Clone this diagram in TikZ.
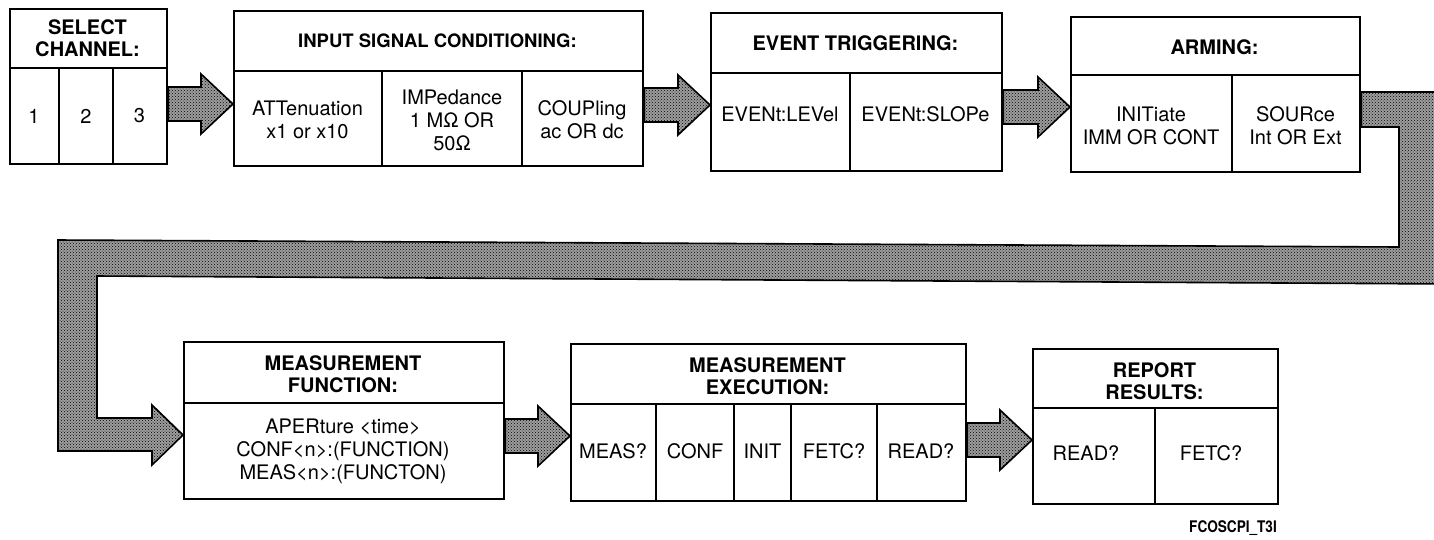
\documentclass[tikz,border=0pt]{standalone}
\usepackage{fontspec}
\setmainfont{TeX Gyre Heros}
\usetikzlibrary{calc,patterns}
\tikzset{
  box/.style={draw, line width=2.4pt, inner sep=0pt, anchor=north west},
  div/.style={line width=1.8pt},
  hdr/.style={font=\fontsize{20}{22}\selectfont\bfseries, align=center, inner sep=0pt},
  txt/.style={font=\fontsize{20}{23}\selectfont, align=center, inner sep=0pt},
  pipe/.style={draw, line width=1.6pt, line join=miter, preaction={fill=black!38}, pattern=crosshatch dots, pattern color=black},
  lbl/.style={font=\fontsize{16}{18}\selectfont\bfseries, inner sep=0pt},
}
\newcommand\fatarrow[3]{%
  \draw[pipe] let \p1=(#1.east), \p2=(#2.west) in
    (\x1,{17pt-#3pt}) -- ({\x2-32pt},{17pt-#3pt}) -- ({\x2-32pt},{30pt-#3pt})
    -- (\x2,{-#3pt}) -- ({\x2-32pt},{-30pt-#3pt}) -- ({\x2-32pt},{-17pt-#3pt})
    -- (\x1,{-17pt-#3pt}) -- cycle;}
\begin{document}
\begin{tikzpicture}[x=1pt,y=-1pt]
\useasboundingbox (0,0) rectangle (1434,539);
\clip (0,0) rectangle (1434,539);
% ---------- top row ----------
\node[box, minimum width=157pt, minimum height=155pt] (sel) at (9,8) {};
\draw[div] (sel.west |- 0,68) -- (sel.east |- 0,68);
\draw[div] (59,68) -- (sel.south -| 59,0);
\draw[div] (113,68) -- (sel.south -| 113,0);
\node[hdr] (selh) at (87.5,38) {SELECT\\CHANNEL:};
\node[txt] (sel1) at (34,116) {1};
\node[txt] (sel2) at (86,116) {2};
\node[txt] (sel3) at (139.5,116) {3};

\node[box, minimum width=409pt, minimum height=155pt] (isc) at (233,10) {};
\draw[div] (isc.west |- 0,71) -- (isc.east |- 0,71);
\draw[div] (382,71) -- (isc.south -| 382,0);
\draw[div] (522,71) -- (isc.south -| 522,0);
\node[hdr, font=\fontsize{18.5}{22}\selectfont\bfseries] (isch) at (437.5,41) {INPUT SIGNAL CONDITIONING:};
\node[txt] (isc1) at (307.5,120) {ATTenuation\\x1 or x10};
\node[txt] (isc2) at (452,120) {IMPedance\\1 MΩ OR\\50Ω};
\node[txt] (isc3) at (582,120) {COUPling\\ac OR dc};

\node[box, minimum width=291pt, minimum height=158pt] (et) at (710,12) {};
\draw[div] (et.west |- 0,73) -- (et.east |- 0,73);
\draw[div] (850,73) -- (et.south -| 850,0);
\node[hdr] (eth) at (855.5,43) {EVENT TRIGGERING:};
\node[txt] (et1) at (780,114) {EVENt:LEVel};
\node[txt] (et2) at (925.5,114) {EVENt:SLOPe};

\node[box, minimum width=289pt, minimum height=155pt] (arm) at (1070,16) {};
\draw[div] (arm.west |- 0,75) -- (arm.east |- 0,75);
\draw[div] (1232,75) -- (arm.south -| 1232,0);
\node[hdr] (armh) at (1214.5,47) {ARMING:};
\node[txt] (arm1) at (1151,126) {INITiate\\IMM OR CONT};
\node[txt] (arm2) at (1295.5,126) {SOURce\\Int OR Ext};

% ---------- bottom row ----------
\node[box, minimum width=320pt, minimum height=157pt] (mf) at (183,341) {};
\draw[div] (mf.west |- 0,403) -- (mf.east |- 0,403);
\node[hdr] (mfh) at (343,374) {MEASUREMENT\\FUNCTION:};
\node[txt] (mf1) at (343,451) {APERture <time>\\CONF<n>:(FUNCTION)\\MEAS<n>:(FUNCTON)};

\node[box, minimum width=395pt, minimum height=157pt] (me) at (570,343) {};
\draw[div] (me.west |- 0,404) -- (me.east |- 0,404);
\draw[div] (656,404) -- (me.south -| 656,0);
\draw[div] (734,404) -- (me.south -| 734,0);
\draw[div] (791,404) -- (me.south -| 791,0);
\draw[div] (877,404) -- (me.south -| 877,0);
\node[hdr] (meh) at (767.5,376) {MEASUREMENT\\EXECUTION:};
\node[txt] (me1) at (613,451) {MEAS?};
\node[txt] (me2) at (695,451) {CONF};
\node[txt] (me3) at (762.5,451) {INIT};
\node[txt] (me4) at (834,451) {FETC?};
\node[txt] (me5) at (921,451) {READ?};

\node[box, minimum width=245pt, minimum height=155pt] (rr) at (1032,348) {};
\draw[div] (rr.west |- 0,408) -- (rr.east |- 0,408);
\draw[div] (1155,408) -- (rr.south -| 1155,0);
\node[hdr] (rrh) at (1154.5,381) {REPORT\\RESULTS:};
\node[txt] (rr1) at (1086,453) {READ?};
\node[txt] (rr2) at (1211,453) {FETC?};

\node[lbl] (tag) at (1233,528) {\scalebox{0.85}[1]{FCOSCPI\_T3I}};

% ---------- arrows ----------
\fatarrow{sel}{isc}{104}
\fatarrow{isc}{et}{105}
\fatarrow{et}{arm}{107}
\fatarrow{mf}{me}{436}
\fatarrow{me}{rr}{440}

\draw[pipe] (arm.east |- 0,92) -- (1450,92) -- (1450,284) -- (97,276) -- (97,418)
  -- (152,418) -- (152,405) -- (mf.west |- 0,435) -- (152,465) -- (152,451)
  -- (58,451) -- (58,240) -- (1399,247) -- (1399,127) -- (arm.east |- 0,127) -- cycle;
\end{tikzpicture}
\end{document}
